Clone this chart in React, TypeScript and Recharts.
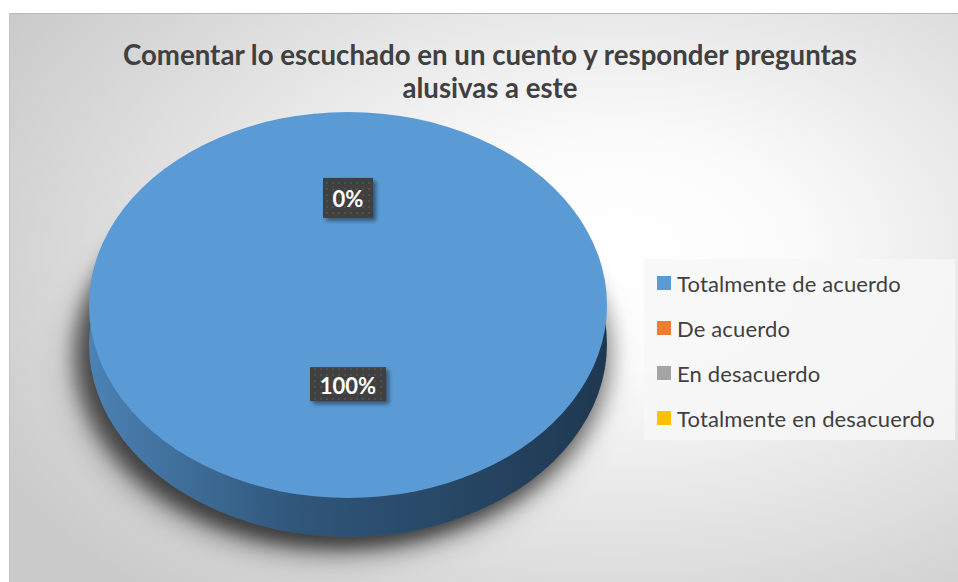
import React from 'react';
import { PieChart, Pie, Cell, Legend } from 'recharts';

const categories = ['Totalmente de acuerdo', 'De acuerdo', 'En desacuerdo', 'Totalmente en desacuerdo'];
const values = [100, 0, 0, 0];
const colors = ['#5B9BD5', '#ED7D31', '#A5A5A5', '#FFC000'];
const titleLines = ['Comentar lo escuchado en un cuento y responder preguntas', 'alusivas a este'];

const topData = categories.map((name, i) => ({ name, value: values[i], fill: colors[i] }));
const sideData = categories.map((name, i) => ({ name, value: values[i] }));

const W = 958;
const H = 582;
const CX = 348;
const CY = 305;
const R = 259;
const SY = 0.745;
const DEPTH = 39;
const firstZero = values.findIndex((v) => v === 0);

const css = `
.pie-top path.recharts-sector { transform-origin: ${CX}px ${CY}px; transform: scaleY(${SY}); }
.pie-side path.recharts-sector { transform-origin: ${CX}px ${CY + DEPTH}px; transform: scaleY(${SY}); }
.pie-side { filter: drop-shadow(-12px 12px 10px rgba(0,0,0,0.38)) drop-shadow(8px 10px 9px rgba(0,0,0,0.16)); }
`;

const renderLabel = (props: any) => {
  const { cx, cy, midAngle, outerRadius, percent, index, value } = props;
  if (value === 0 && index !== firstZero) return null;
  const f = value === 0 ? 0.555 : 0.41;
  const rad = (-midAngle * Math.PI) / 180;
  const x = cx + outerRadius * f * Math.cos(rad);
  const y = cy + outerRadius * f * Math.sin(rad) * SY;
  const txt = `${Math.round(percent * 100)}%`;
  const w = 24 + txt.length * 13;
  const h = value === 0 ? 40 : 34;
  return (
    <g key={`lbl-${index}`}>
      <rect x={x - w / 2} y={y - h / 2} width={w} height={h} fill="url(#dots)" filter="url(#boxShadow)" />
      <text
        x={x}
        y={y + 1}
        textAnchor="middle"
        dominantBaseline="central"
        fill="#ffffff"
        fontFamily="Lato, 'Open Sans', sans-serif"
        fontWeight={700}
        fontSize={22}
      >
        {txt}
      </text>
    </g>
  );
};

const renderLegend = (props: any) => {
  const payload = (props.payload || [])
    .filter((p: any) => p.type !== 'none')
    .slice()
    .sort((a: any, b: any) => categories.indexOf(a.value) - categories.indexOf(b.value));
  return (
    <div
      style={{
        position: 'relative',
        width: 311,
        height: 181,
        background: 'rgba(247,247,247,0.85)',
      }}
    >
      {payload.map((p: any, i: number) => (
        <div
          key={p.value}
          style={{
            position: 'absolute',
            left: 13,
            top: 24 + i * 45 - 13,
            height: 26,
            display: 'flex',
            alignItems: 'center',
            whiteSpace: 'nowrap',
          }}
        >
          <span
            style={{
              display: 'inline-block',
              width: 14,
              height: 14,
              background: p.color || colors[categories.indexOf(p.value)],
              marginRight: 6,
            }}
          />
          <span
            style={{
              fontFamily: "Lato, 'Open Sans', sans-serif",
              fontSize: 22,
              letterSpacing: 0.15,
              color: '#404040',
            }}
          >
            {p.value}
          </span>
        </div>
      ))}
    </div>
  );
};

export default function App() {
  return (
    <div style={{ position: 'absolute', left: 0, top: 0, width: W, height: H, background: '#ffffff', overflow: 'hidden' }}>
      <style>{css}</style>
      <div
        style={{
          position: 'absolute',
          left: 9,
          top: 13,
          width: W - 9,
          height: H - 13,
          boxSizing: 'border-box',
          borderTop: '1px solid #b9b9b9',
          borderLeft: '1px solid #c4c4c4',
          background:
            'radial-gradient(ellipse 75% 80% at 64% 42%, #ffffff 0%, #fbfbfb 25%, #e4e4e4 60%, #cacaca 100%)',
        }}
      />
      <div style={{ position: 'absolute', left: 0, top: 0 }}>
        <PieChart width={W} height={H} margin={{ top: 0, right: 0, bottom: 0, left: 0 }}>
          <defs>
            <linearGradient id="sideGrad" x1="0" y1="0" x2="1" y2="0">
              <stop offset="0%" stopColor="#4c82b4" />
              <stop offset="40%" stopColor="#30567a" />
              <stop offset="100%" stopColor="#1e3850" />
            </linearGradient>
            <filter id="boxShadow" x="-30%" y="-30%" width="160%" height="160%">
              <feDropShadow dx="3" dy="3" stdDeviation="2" floodColor="#000" floodOpacity="0.45" />
            </filter>
            <pattern id="dots" width="6" height="6" patternUnits="userSpaceOnUse">
              <rect width="6" height="6" fill="#404040" />
              <circle cx="3" cy="3" r="0.9" fill="#565656" />
            </pattern>
          </defs>
          {titleLines.map((t, i) => (
            <text
              key={t}
              x={490}
              y={65 + i * 33}
              textAnchor="middle"
              textLength={i === 0 ? 734 : 175}
              lengthAdjust="spacingAndGlyphs"
              fill="#404040"
              fontFamily="Lato, 'Open Sans', sans-serif"
              fontWeight={700}
              fontSize={28}
            >
              {t}
            </text>
          ))}
          <Pie
            className="pie-side"
            data={sideData}
            dataKey="value"
            nameKey="name"
            cx={CX}
            cy={CY + DEPTH}
            outerRadius={R}
            startAngle={90}
            endAngle={-270}
            stroke="none"
            legendType="none"
            isAnimationActive={false}
            label={false}
            labelLine={false}
          >
            {sideData.map((d, i) => (
              <Cell key={`sd-${i}`} fill="url(#sideGrad)" />
            ))}
          </Pie>
          <Pie
            className="pie-top"
            data={topData}
            dataKey="value"
            nameKey="name"
            cx={CX}
            cy={CY}
            outerRadius={R}
            startAngle={90}
            endAngle={-270}
            stroke="none"
            isAnimationActive={false}
            label={renderLabel}
            labelLine={false}
          >
            {topData.map((d, i) => (
              <Cell key={`tp-${i}`} fill={colors[i]} />
            ))}
          </Pie>
          <Legend
            layout="vertical"
            align="right"
            verticalAlign="top"
            itemSorter={null as any}
            content={renderLegend}
            wrapperStyle={{ position: 'absolute', left: 644, top: 259, width: 311, height: 181 }}
          />
        </PieChart>
      </div>
    </div>
  );
}
